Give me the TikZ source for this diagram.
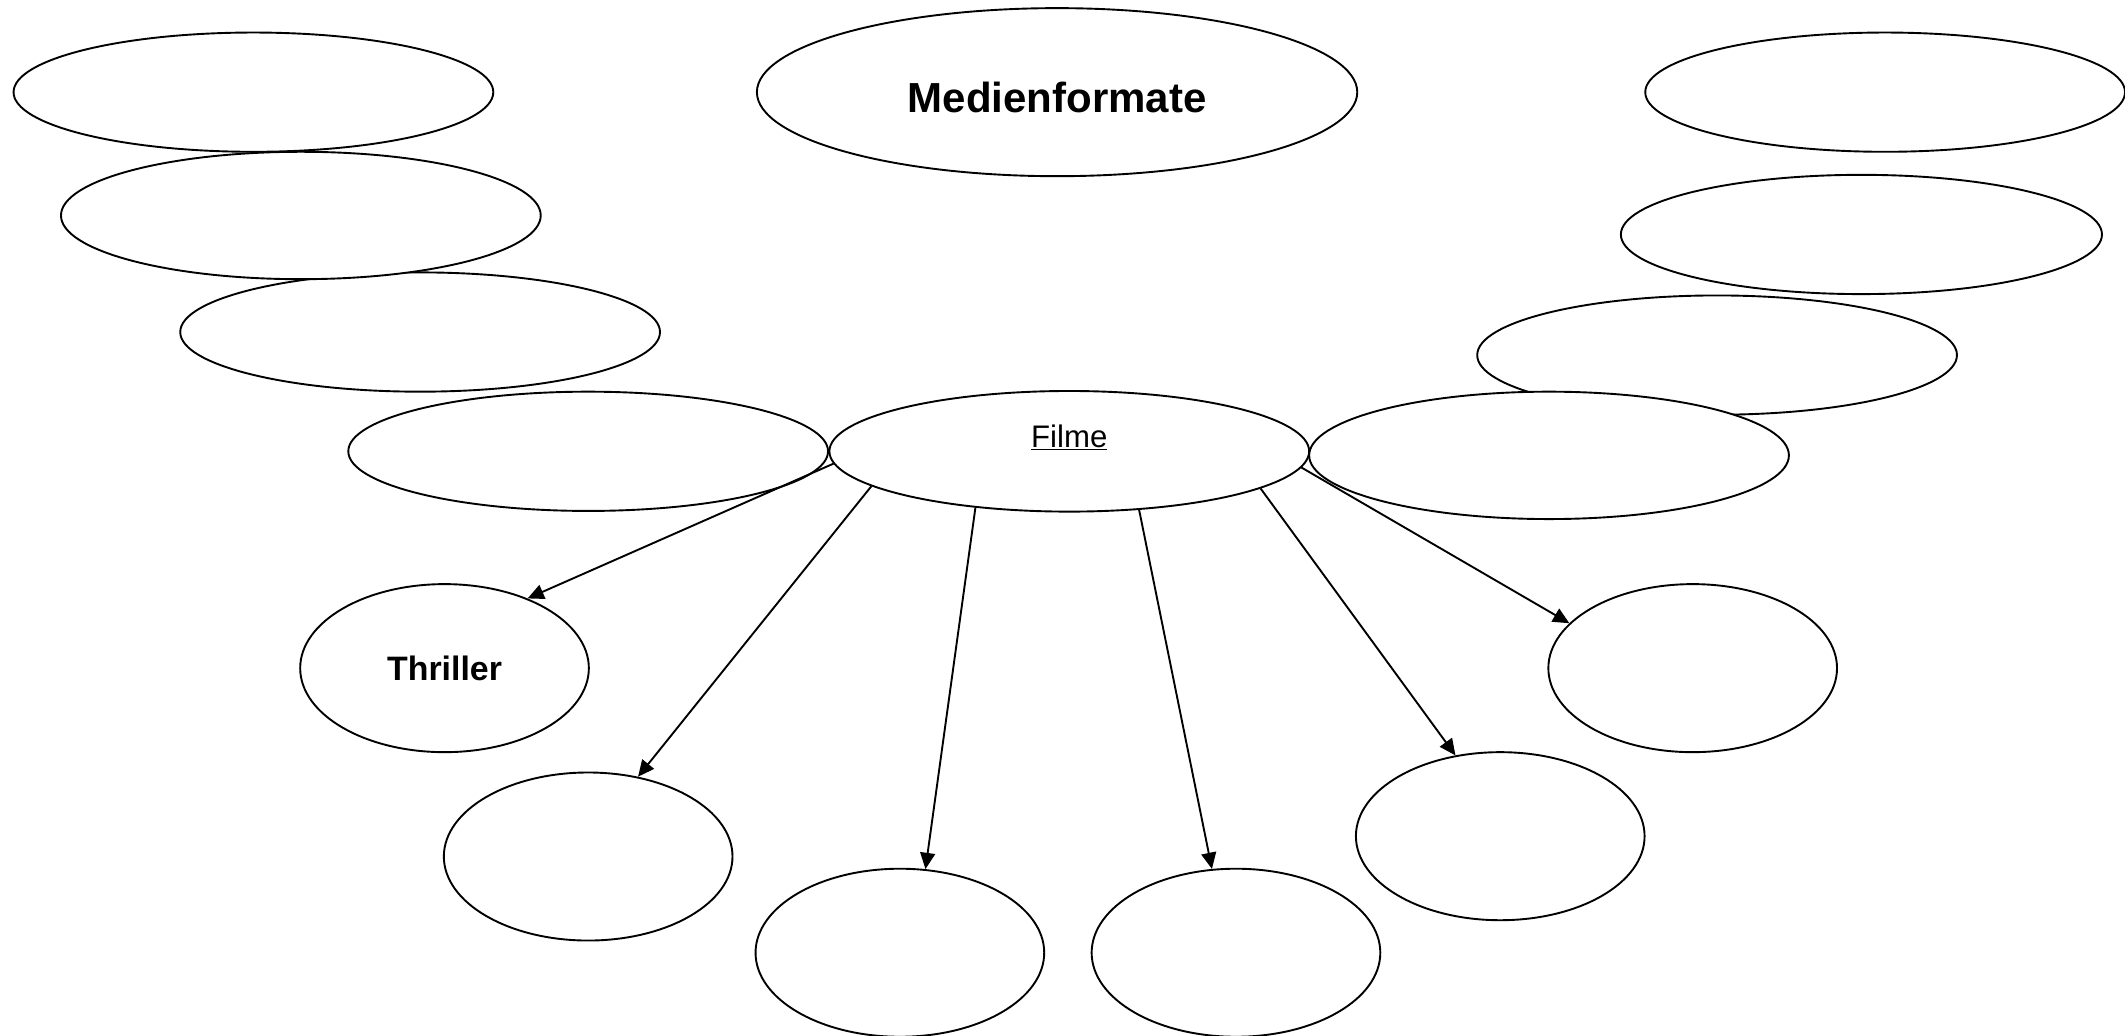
\documentclass[tikz,border=0pt]{standalone}
\usepackage{fontspec}
\setmainfont{Liberation Sans}
\usetikzlibrary{shapes.geometric,arrows.meta}
\begin{document}
\begin{tikzpicture}[x=1pt,y=-1pt,
  oval/.style={ellipse,draw,fill=white,line width=1.4pt,inner sep=0pt},
  wide/.style={oval,minimum width=354pt,minimum height=88pt},
  small/.style={oval,minimum width=213pt,minimum height=124pt},
  link/.style={-{Triangle[length=12pt,width=11pt]},line width=1.4pt}]
\useasboundingbox (0,0) rectangle (1568,764);
% left stack
\node[wide] (w1) at (187,68) {};
\node[wide] (w3) at (310,245) {};
\node[wide,minimum height=94pt] (w2) at (222,159) {};
\node[wide] (w4) at (434,333) {};
% title
\node[oval,minimum width=443pt,minimum height=124pt,text height=30pt,text depth=0pt,
  font=\fontsize{31}{36}\selectfont\bfseries] (title) at (780,68) {Medienformate};
% right stack
\node[wide] (w10) at (1391,68) {};
\node[wide,minimum width=355pt] (w9) at (1373.5,173) {};
\node[wide] (w8) at (1267,262) {};
\node[wide,minimum height=94pt] (w7) at (1143,336) {};
% centre
\node[wide,minimum height=89pt,text height=16pt,text depth=22pt,
  font=\fontsize{23}{27}\selectfont] (filme) at (789,333) {\underline{Filme}};
% lower nodes
\node[small,font=\fontsize{25}{30}\selectfont\bfseries] (thriller) at (328,493) {Thriller};
\node[small] (b2) at (434,632) {};
\node[small] (b3) at (664,703) {};
\node[small] (b4) at (912,703) {};
\node[small] (b5) at (1107,617) {};
\node[small] (b6) at (1249,493) {};
% arrows
\draw[link] (filme.183) -- (thriller.40);
\draw[link] (filme.190.8) -- (b2.58.8);
\draw[link] (filme.211.8) -- (b3.73);
\draw[link] (filme.320.3) -- (b4.106);
\draw[link] (filme.349.2) -- (b5.119);
\draw[link] (filme.356.8) -- (b6.160);
\end{tikzpicture}
\end{document}
